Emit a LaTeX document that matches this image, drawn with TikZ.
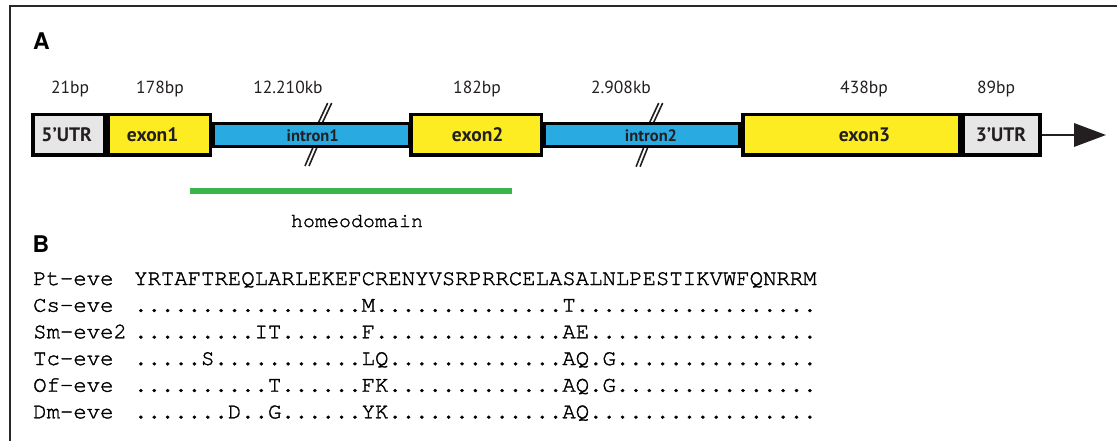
\documentclass[tikz,border=0pt]{standalone}
\usepackage{fontspec}
\usetikzlibrary{arrows.meta}
\newfontfamily\labelfont{PT Sans}
\newfontfamily\headfont{TeX Gyre Heros}
\newfontfamily\seqfont[FakeBold=1.5]{texgyrecursor-regular.otf}
\definecolor{exonY}{RGB}{252,236,33}
\definecolor{intronB}{RGB}{41,171,226}
\definecolor{utrG}{RGB}{230,230,230}
\definecolor{hdG}{RGB}{57,181,74}
\definecolor{ink}{RGB}{35,31,32}
\definecolor{framecol}{RGB}{40,40,40}
\newcommand\seqdots[1]{\ifnum#1>0 .\expandafter\seqdots\expandafter{\the\numexpr#1-1\relax}\fi}
\begin{document}
\begin{tikzpicture}[x=1pt,y=-1pt,
  frameline/.style={draw=framecol,line width=2pt},
  exonbox/.style={draw=black,line width=3.5pt,fill=exonY,inner sep=0pt,minimum height=40.5pt},
  utrbox/.style={draw=black,line width=3.5pt,fill=utrG,inner sep=0pt,minimum height=40.5pt},
  intronbox/.style={draw=black,line width=3.3pt,fill=intronB,inner sep=0pt,minimum height=22.8pt},
  gtext/.style={inner sep=0pt,anchor=base,text=ink,font=\labelfont\bfseries\fontsize{19.5}{22}\selectfont},
  itext/.style={inner sep=0pt,anchor=base,text=ink,font=\labelfont\bfseries\fontsize{16.5}{19}\selectfont},
  sizetext/.style={inner sep=0pt,anchor=base,text=ink,font=\labelfont\fontsize{17.5}{20}\selectfont},
  headtext/.style={inner sep=0pt,anchor=base west,font=\headfont\bfseries\fontsize{23}{26}\selectfont},
  seqtext/.style={inner sep=0pt,anchor=base west,font=\seqfont\fontsize{22.3}{26}\selectfont},
  slash/.style={draw=ink,line width=1.6pt},
  arrowline/.style={draw=ink,line width=2pt,-{Triangle[length=32pt,width=23.4pt]}},
  hdline/.style={draw=hdG,line width=5.5pt}
]
\useasboundingbox (0,0) rectangle (1117,441);
% frame
\coordinate (fr1) at (1120,6);
\coordinate (fr2) at (10,6);
\coordinate (fr3) at (10,444);
\draw[frameline] (fr1) -- (fr2) -- (fr3);
% panel labels
\node[headtext] (labA) at (33,50) {A};
\node[headtext] (labB) at (32.5,252) {B};
% size labels
\node[sizetext] (s1) at (70,93.3) {21bp};
\node[sizetext] (s2) at (160,93.3) {178bp};
\node[sizetext] (s3) at (288,93.3) {12.210kb};
\node[sizetext] (s4) at (477,93.3) {182bp};
\node[sizetext] (s5) at (621,93.3) {2.908kb};
\node[sizetext] (s6) at (864,93.3) {438bp};
\node[sizetext] (s7) at (996,93.3) {89bp};
% break marks
\draw[slash] (318.3,123) -- (327.7,103);
\draw[slash] (322.3,123) -- (331.7,103);
\draw[slash] (305,166) -- (312.7,148);
\draw[slash] (309,166) -- (316.7,148);
\draw[slash] (649.4,123) -- (658.7,103);
\draw[slash] (653.4,123) -- (662.7,103);
\draw[slash] (636.1,166.7) -- (643.5,148);
\draw[slash] (640.1,166.7) -- (647.5,148);
% gene structure
\node[intronbox,minimum width=195.5pt] (in1) at (311.5,135) {};
\node[intronbox,minimum width=194.5pt] (in2) at (642,135) {};
\node[utrbox,minimum width=71.5pt] (u5) at (68.5,135) {};
\node[exonbox,minimum width=102.5pt] (e1) at (159,135) {};
\node[exonbox,minimum width=130.5pt] (e2) at (476,135) {};
\node[exonbox,minimum width=217pt] (e3) at (851.3,135) {};
\node[utrbox,minimum width=76.5pt] (u3) at (1001.5,135) {};
\coordinate (tip) at (1106,135);
\draw[arrowline] (u3.east) -- (tip);
% gene texts
\node[gtext] (tu5) at (66.7,141.7) {5’UTR};
\node[gtext] (te1) at (152.7,141.7) {exon1};
\node[itext] (ti1) at (312.7,141.7) {intron1};
\node[gtext] (te2) at (477.7,141.7) {exon2};
\node[itext] (ti2) at (651,141.7) {intron2};
\node[gtext] (te3) at (864.5,141.7) {exon3};
\node[gtext] (tu3) at (1001,141.7) {3’UTR};
% homeodomain
\coordinate (hd1) at (190,191);
\coordinate (hd2) at (512,191);
\draw[hdline] (hd1) -- (hd2);
\node[inner sep=0pt,anchor=base,font=\seqfont\fontsize{20}{24}\selectfont] (hdt) at (357,227) {homeodomain};
% alignment
\node[seqtext] (n1) at (33,285) {Pt-eve};
\node[seqtext] (n2) at (33,311.7) {Cs-eve};
\node[seqtext] (n3) at (33,338.3) {Sm-eve2};
\node[seqtext] (n4) at (33,365) {Tc-eve};
\node[seqtext] (n5) at (33,391.7) {Of-eve};
\node[seqtext] (n6) at (33,418.3) {Dm-eve};
\node[seqtext] (q1) at (134,285) {YRTAFTREQLARLEKEFCRENYVSRPRRCELASALNLPESTIKVWFQNRRM};
\node[seqtext] (q2) at (134,311.7) {\seqdots{17}M\seqdots{14}T\seqdots{18}};
\node[seqtext] (q3) at (134,338.3) {\seqdots{9}IT\seqdots{6}F\seqdots{14}AE\seqdots{17}};
\node[seqtext] (q4) at (134,365) {\seqdots{5}S\seqdots{11}LQ\seqdots{13}AQ.G\seqdots{15}};
\node[seqtext] (q5) at (134,391.7) {\seqdots{10}T\seqdots{6}FK\seqdots{13}AQ.G\seqdots{15}};
\node[seqtext] (q6) at (134,418.3) {\seqdots{7}D..G\seqdots{6}YK\seqdots{13}AQ\seqdots{17}};
\end{tikzpicture}
\end{document}
